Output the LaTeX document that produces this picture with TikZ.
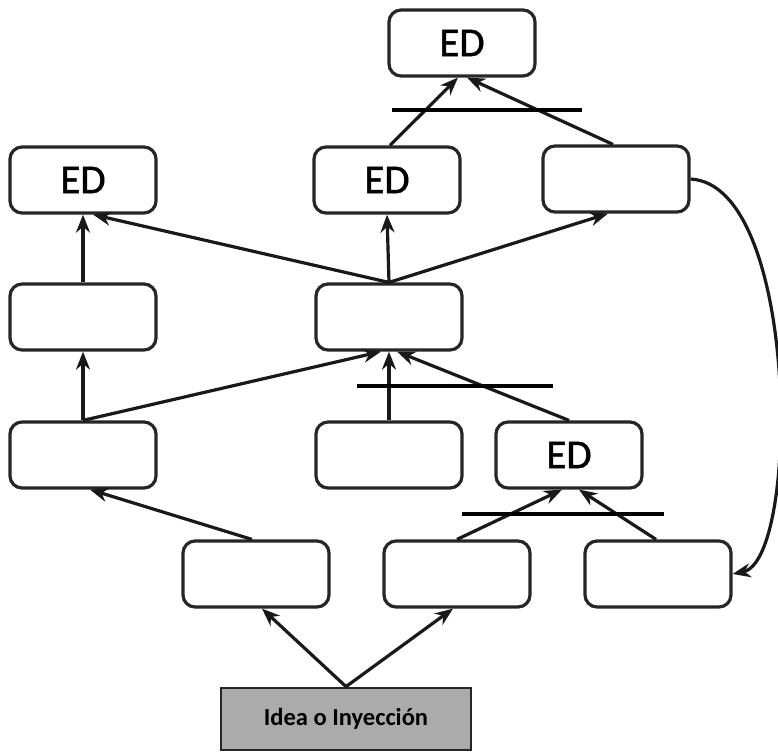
\documentclass[tikz,border=0pt]{standalone}
\usepackage{fontspec}
\setmainfont{Carlito}
\newfontface\edface{Carlito}[FakeBold=1.2]
\usetikzlibrary{arrows.meta,calc}
\begin{document}
\begin{tikzpicture}[x=1pt,y=-1pt,
  stage/.style={draw=black!85,line width=3.2pt,rounded corners=12pt,fill=white,
    minimum width=146pt,minimum height=66pt,inner sep=0pt,font=\edface\fontsize{41}{46}\selectfont},
  source/.style={draw=black!85,line width=2.8pt,fill=black!33,
    minimum width=250pt,minimum height=62pt,inner sep=0pt,font=\bfseries\fontsize{24.5}{28}\selectfont},
  link/.style={line width=3.2pt,draw=black!90,-{Stealth[length=18pt,width=14pt]}},
  cut/.style={line width=3.8pt,draw=black}]
\useasboundingbox (0,0) rectangle (778,752);

% stages, top to bottom
\node[stage] (top) at (462,43) {ED};
\node[stage] (r2a) at (83,180) {ED};
\node[stage] (r2b) at (387,180) {ED};
\node[stage] (r2c) at (616,179) {};
\node[stage] (r3a) at (83,317) {};
\node[stage] (r3b) at (389,317) {};
\node[stage] (r4a) at (83,455) {};
\node[stage] (r4b) at (389,455) {};
\node[stage] (r4c) at (569,455) {ED};
\node[stage] (r5a) at (256,574) {};
\node[stage] (r5b) at (457,574) {};
\node[stage] (r5c) at (658,574) {};
\node[source] (idea) at (346,719) {Idea o Inyección};

% links from the source
\draw[link] (idea.north) -- ($(r5a.south)+(6,0)$);
\draw[link] (idea.north) -- ($(r5b.south)+(-4,0)$);

% bottom row upwards
\draw[link] ($(r5a.north)+(-4,0)$) -- ($(r4a.south)+(7,0)$);
\draw[link] (r5b.north) -- ($(r4c.south)+(-7,0)$);
\draw[link] ($(r5c.north)+(-2,0)$) -- ($(r4c.south)+(10,0)$);

% fourth row upwards
\draw[link] (r4a.north) -- (r3a.south);
\draw[link] (r4a.north) -- ($(r3b.south)+(-8,0)$);
\draw[link] (r4b.north) -- (r3b.south);
\draw[link] (r4c.north) -- ($(r3b.south)+(8,0)$);

% third row upwards
\draw[link] (r3a.north) -- (r2a.south);
\draw[link] (r3b.north) -- ($(r2a.south)+(10,0)$);
\draw[link] (r3b.north) -- (r2b.south);
\draw[link] (r3b.north) -- ($(r2c.south)+(-8,0)$);

% second row upwards
\draw[link] ($(r2b.north)+(3,0)$) -- ($(top.south)+(-4,0)$);
\draw[link] ($(r2c.north)+(-3,0)$) -- ($(top.south)+(5,0)$);

% feedback loop on the right
\draw[link] (r2c.east) .. controls (800,185) and (800,560) .. (r5c.east);

% cut bars across converging links
\coordinate (c1a) at (392,110); \coordinate (c1b) at (582,110);
\coordinate (c2a) at (357,386); \coordinate (c2b) at (553,386);
\coordinate (c3a) at (462,514); \coordinate (c3b) at (664,514);
\draw[cut] (c1a) -- (c1b);
\draw[cut] (c2a) -- (c2b);
\draw[cut] (c3a) -- (c3b);
\end{tikzpicture}
\end{document}
